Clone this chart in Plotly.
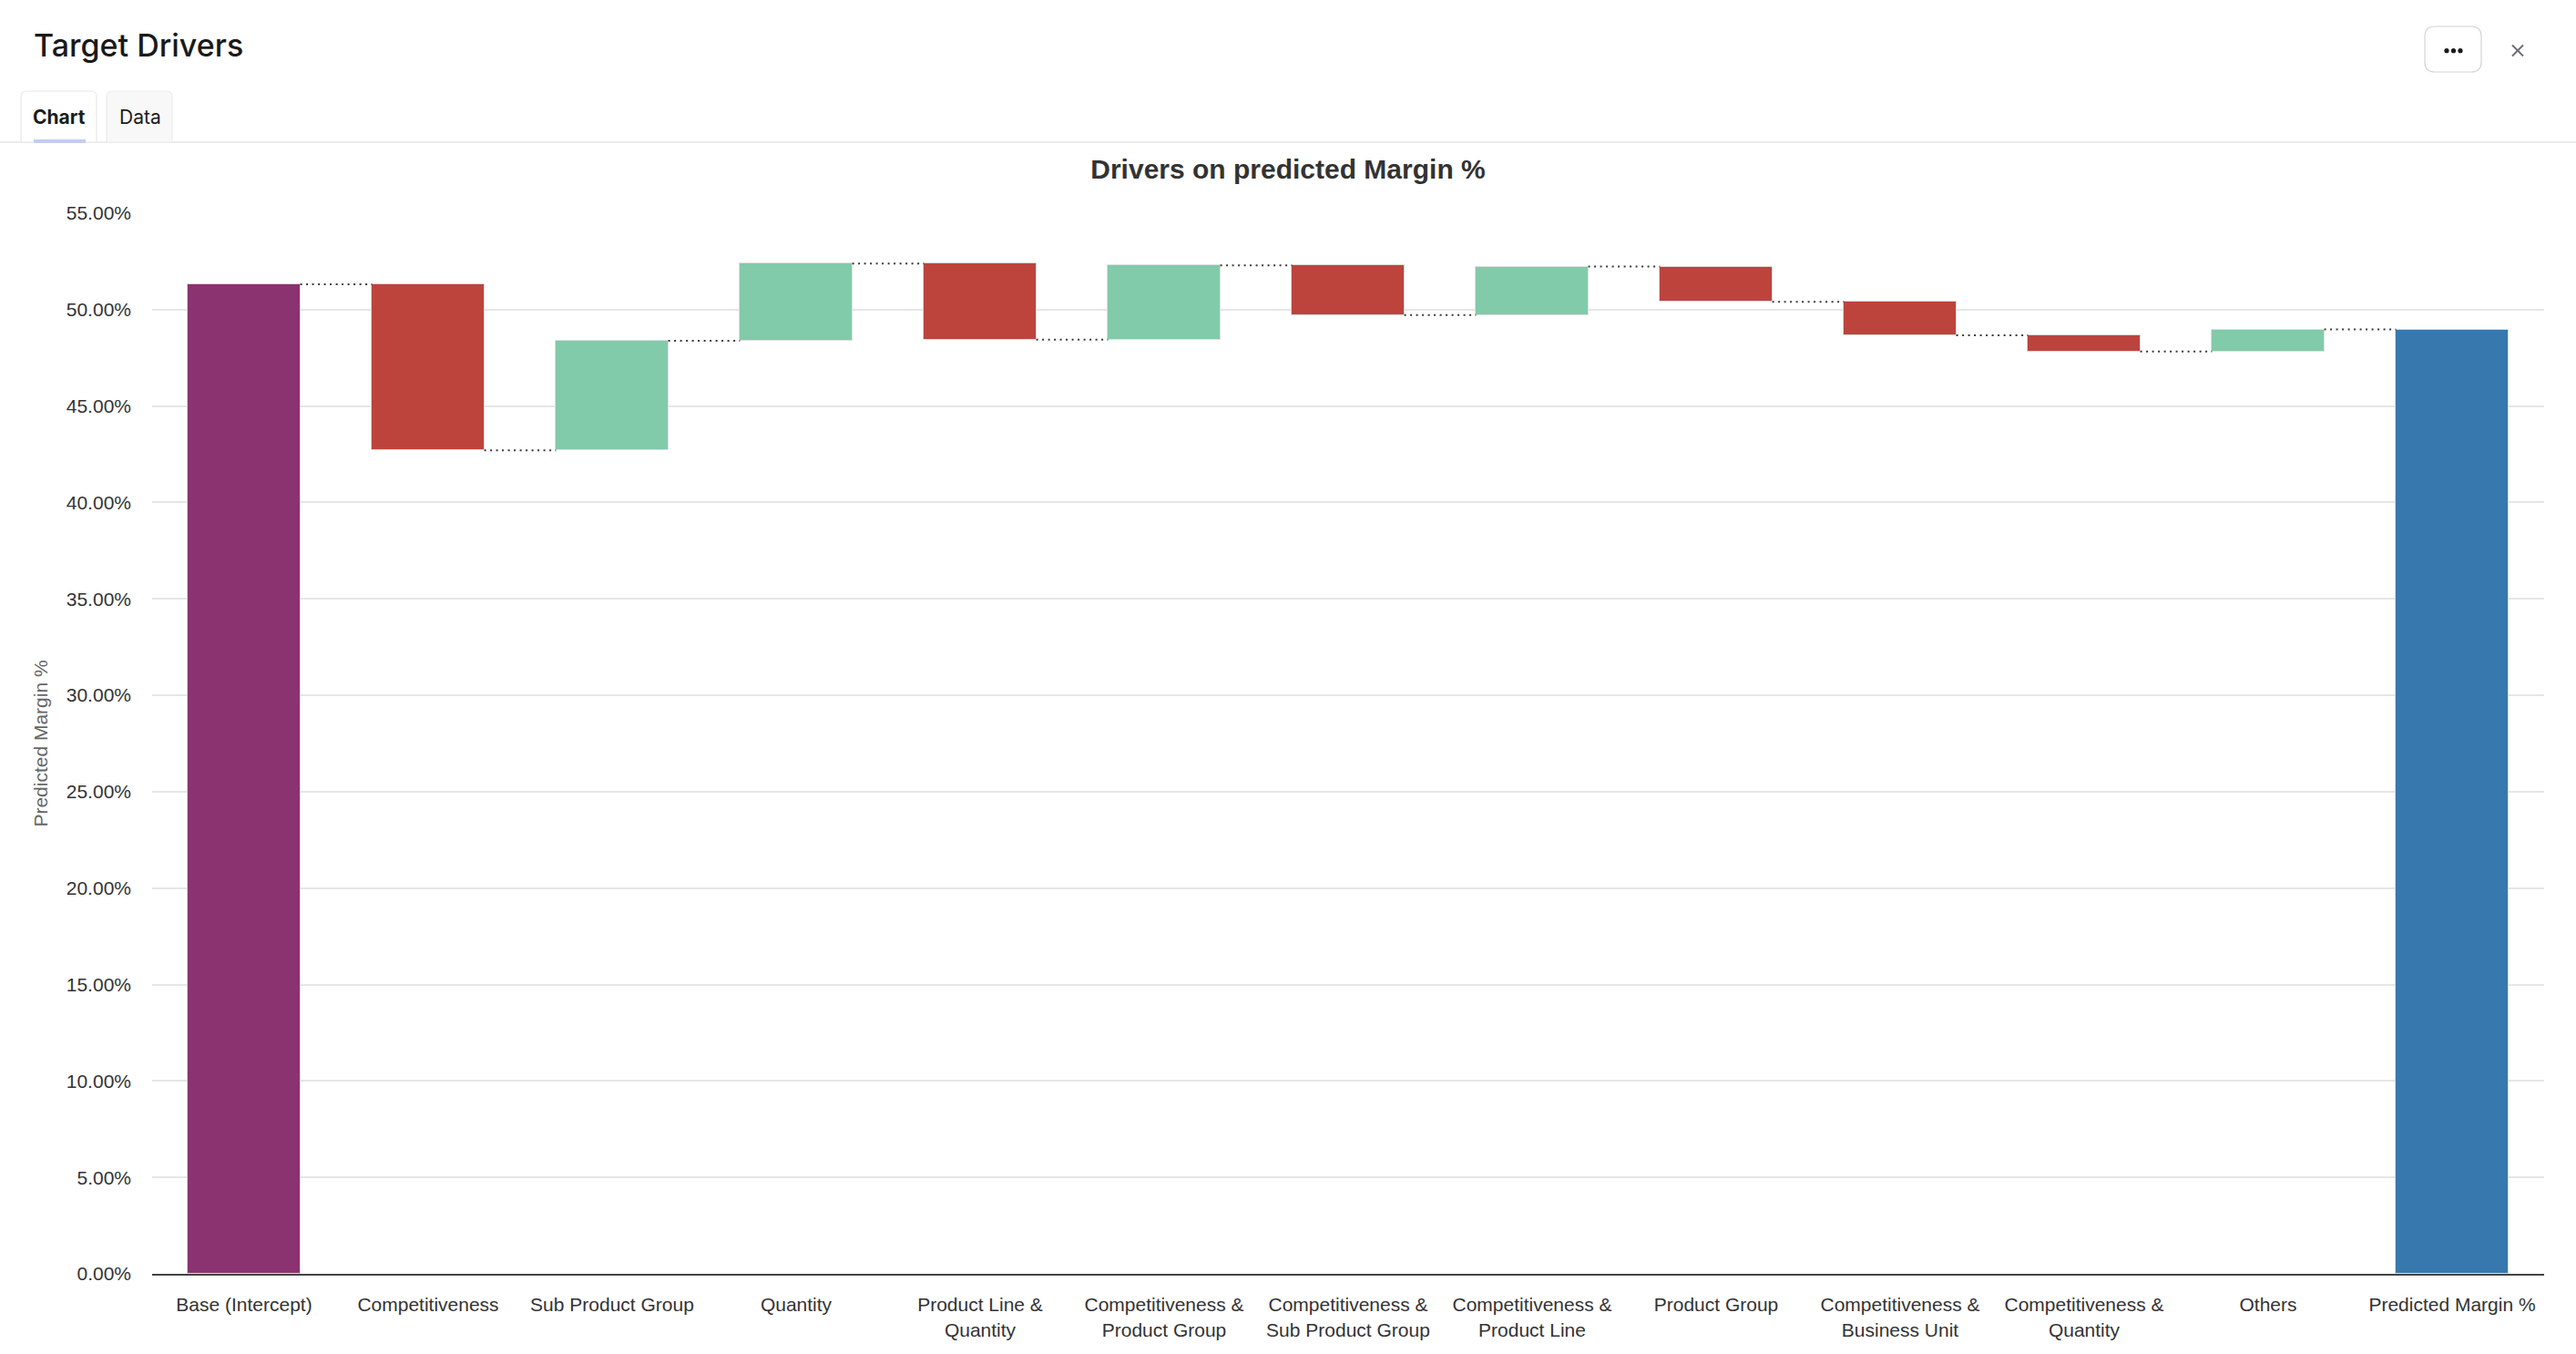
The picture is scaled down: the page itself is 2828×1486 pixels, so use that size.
import plotly.graph_objects as go

# ---------------- data ----------------
categories = [
    "Base (Intercept)", "Competitiveness", "Sub Product Group", "Quantity",
    "Product Line & Quantity", "Competitiveness & Product Group",
    "Competitiveness & Sub Product Group", "Competitiveness & Product Line",
    "Product Group", "Competitiveness & Business Unit",
    "Competitiveness & Quantity", "Others", "Predicted Margin %",
]
tick_labels = [
    "Base (Intercept)", "Competitiveness", "Sub Product Group", "Quantity",
    "Product Line &<br>Quantity", "Competitiveness &<br>Product Group",
    "Competitiveness &<br>Sub Product Group", "Competitiveness &<br>Product Line",
    "Product Group", "Competitiveness &<br>Business Unit",
    "Competitiveness &<br>Quantity", "Others", "Predicted Margin %",
]
base_value = 0.5132
driver_changes = [-0.0862, 0.0569, 0.0400, -0.0395, 0.0386, -0.0258,
                  0.0251, -0.0182, -0.0174, -0.0084, 0.0114]
predicted_total = 0.4897
y_ticks = [0.00, 0.05, 0.10, 0.15, 0.20, 0.25, 0.30, 0.35, 0.40, 0.45, 0.50, 0.55]

# ---------------- styling ----------------
C_BASE = "#8B3270"
C_DOWN = "#BD433D"
C_UP = "#81CAAA"
C_TOTAL = "#3778AE"
BAR_W = 0.61

W, H = 2828, 1486
ML, MR, MT, MB = 167, 35, 234, 88
PW, PH = W - ML - MR, H - MT - MB


def px_x(px):
    return (px - ML) / PW


def px_y(py):
    return (H - MB - py) / PH


# build bars
xs = list(range(len(categories)))
bases, heights, colors, ends = [], [], [], []
bases.append(0.0)
heights.append(base_value)
colors.append(C_BASE)
cum = base_value
ends.append(cum)
for d in driver_changes:
    bases.append(cum)
    heights.append(d)
    colors.append(C_UP if d >= 0 else C_DOWN)
    cum = cum + d
    ends.append(cum)
bases.append(0.0)
heights.append(predicted_total)
colors.append(C_TOTAL)

fig = go.Figure()
fig.add_trace(go.Bar(
    x=xs, y=heights, base=bases, width=BAR_W,
    marker=dict(color=colors, line=dict(color="rgba(225,225,225,0.85)", width=1)),
    hoverinfo="skip",
))

# connectors
cx, cy = [], []
for i, e in enumerate(ends):
    cx += [xs[i] + BAR_W / 2, xs[i + 1] - BAR_W / 2, None]
    cy += [e, e, None]
fig.add_trace(go.Scatter(
    x=cx, y=cy, mode="lines",
    line=dict(color="#3a3a3a", width=2, dash="2px,4.5px"),
    hoverinfo="skip",
))

# ---------------- UI chrome ----------------
shapes = []
annotations = []


def rounded_top_path(x0, y0, x1, y1, r):
    pts = [
        f"M {px_x(x0)},{px_y(y1)}",
        f"L {px_x(x0)},{px_y(y0 + r)}",
        f"Q {px_x(x0)},{px_y(y0)} {px_x(x0 + r)},{px_y(y0)}",
        f"L {px_x(x1 - r)},{px_y(y0)}",
        f"Q {px_x(x1)},{px_y(y0)} {px_x(x1)},{px_y(y0 + r)}",
        f"L {px_x(x1)},{px_y(y1)} Z",
    ]
    return " ".join(pts)


def rounded_rect_path(x0, y0, x1, y1, r):
    pts = [
        f"M {px_x(x0 + r)},{px_y(y0)}",
        f"L {px_x(x1 - r)},{px_y(y0)}",
        f"Q {px_x(x1)},{px_y(y0)} {px_x(x1)},{px_y(y0 + r)}",
        f"L {px_x(x1)},{px_y(y1 - r)}",
        f"Q {px_x(x1)},{px_y(y1)} {px_x(x1 - r)},{px_y(y1)}",
        f"L {px_x(x0 + r)},{px_y(y1)}",
        f"Q {px_x(x0)},{px_y(y1)} {px_x(x0)},{px_y(y1 - r)}",
        f"L {px_x(x0)},{px_y(y0 + r)}",
        f"Q {px_x(x0)},{px_y(y0)} {px_x(x0 + r)},{px_y(y0)} Z",
    ]
    return " ".join(pts)


# separator line
shapes.append(dict(type="line", xref="paper", yref="paper",
                   x0=px_x(0), x1=px_x(W), y0=px_y(156), y1=px_y(156),
                   line=dict(color="#e6e6e6", width=1.5), layer="below"))
# tabs
shapes.append(dict(type="path", xref="paper", yref="paper",
                   path=rounded_top_path(23, 100, 106, 156, 6),
                   fillcolor="#ffffff", line=dict(color="#e8e8e8", width=1.2)))
shapes.append(dict(type="path", xref="paper", yref="paper",
                   path=rounded_top_path(117, 100, 189, 156, 6),
                   fillcolor="#f8f8f8", line=dict(color="#ececec", width=1.2)))
shapes.append(dict(type="rect", xref="paper", yref="paper",
                   x0=px_x(37), x1=px_x(94), y0=px_y(157), y1=px_y(153),
                   fillcolor="#c3cdf0", line=dict(width=0)))
# "..." button
shapes.append(dict(type="path", xref="paper", yref="paper",
                   path=rounded_rect_path(2662, 29, 2724, 79, 11),
                   fillcolor="#ffffff", line=dict(color="#d4d4d4", width=1.2)))
for dx in (2686, 2693.5, 2701):
    shapes.append(dict(type="circle", xref="paper", yref="paper",
                       x0=px_x(dx - 2.6), x1=px_x(dx + 2.6),
                       y0=px_y(55.7 + 2.6), y1=px_y(55.7 - 2.6),
                       fillcolor="#1a1a1a", line=dict(width=0)))
# close x
shapes.append(dict(type="line", xref="paper", yref="paper",
                   x0=px_x(2758), x1=px_x(2770), y0=px_y(49.5), y1=px_y(61.5),
                   line=dict(color="#6b6e76", width=2)))
shapes.append(dict(type="line", xref="paper", yref="paper",
                   x0=px_x(2758), x1=px_x(2770), y0=px_y(61.5), y1=px_y(49.5),
                   line=dict(color="#6b6e76", width=2)))

annotations.append(dict(text="Target Drivers", xref="paper", yref="paper",
                        x=px_x(35), y=px_y(50), xanchor="left", yanchor="middle",
                        showarrow=False,
                        font=dict(family="Inter, Noto Sans, sans-serif", size=34,
                                  color="#1a1a1a", weight=500)))
annotations.append(dict(text="<b>Chart</b>", xref="paper", yref="paper",
                        x=px_x(65), y=px_y(128), xanchor="center", yanchor="middle",
                        showarrow=False,
                        font=dict(family="Inter, Noto Sans, sans-serif", size=21, color="#1c1c1c")))
annotations.append(dict(text="Data", xref="paper", yref="paper",
                        x=px_x(154), y=px_y(128), xanchor="center", yanchor="middle",
                        showarrow=False,
                        font=dict(family="Inter, Noto Sans, sans-serif", size=21, color="#1c1c1c")))

fig.update_layout(
    width=W, height=H,
    margin=dict(l=ML, r=MR, t=MT, b=MB, pad=0),
    paper_bgcolor="#ffffff", plot_bgcolor="#ffffff",
    font=dict(family="Liberation Sans, Arial, sans-serif", size=21, color="#333333"),
    showlegend=False,
    bargap=0,
    title=dict(text="<b>Drivers on predicted Margin %</b>",
               font=dict(family="Liberation Sans, Arial, sans-serif", size=30, color="#333333"),
               x=0.5, xref="container", xanchor="center",
               y=1 - 185 / H, yref="container", yanchor="middle"),
    xaxis=dict(
        range=[-0.5, len(categories) - 0.5],
        tickmode="array", tickvals=xs, ticktext=tick_labels,
        showgrid=False, zeroline=False,
        showline=True, linecolor="#444444", linewidth=2,
        ticks="", ticklabelstandoff=14,
        tickfont=dict(size=21, color="#333333"),
        fixedrange=True,
    ),
    yaxis=dict(
        range=[0, 0.55],
        tickmode="array", tickvals=y_ticks, tickformat=".2%",
        showgrid=True, gridcolor="#e6e6e6", gridwidth=1.5,
        zeroline=False, showline=False, ticks="",
        ticklabelstandoff=22,
        tickfont=dict(size=21, color="#333333"),
        title=dict(text="Predicted Margin %", standoff=14,
                   font=dict(size=21, color="#666666")),
        fixedrange=True,
    ),
    shapes=shapes,
    annotations=annotations,
)

fig.write_html("out.html", config={"displayModeBar": False})
